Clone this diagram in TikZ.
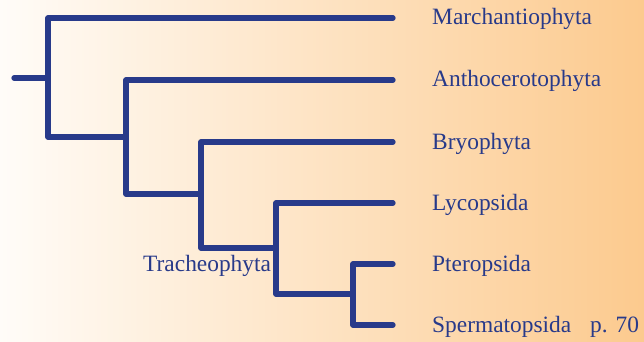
\documentclass[tikz,border=0pt]{standalone}
\usepackage{fontspec}
\setmainfont{Liberation Serif}
\definecolor{treeblue}{HTML}{283A8A}
\definecolor{bgleft}{HTML}{FFFCF8}
\definecolor{bgright}{HTML}{FCCA8E}
\begin{document}
\begin{tikzpicture}[x=1pt,y=-1pt,
  branch/.style={draw=treeblue,line width=5.3pt,line cap=round,line join=round},
  taxon/.style={anchor=base west,text=treeblue,inner sep=0pt,font=\fontsize{23.4}{27}\selectfont}]
\shade[left color=bgleft,right color=bgright] (0,0) rectangle (644,342);
\useasboundingbox (0,0) rectangle (644,342);
% joints
\coordinate (root) at (14,78);
\coordinate (jA) at (48,78);
\coordinate (jB) at (126,137);
\coordinate (jC) at (201,194);
\coordinate (jD) at (276,248);
\coordinate (jE) at (353,294);
% branch ends
\coordinate (e1) at (393,18);
\coordinate (e2) at (393,80);
\coordinate (e3) at (393,142);
\coordinate (e4) at (393,203);
\coordinate (e5) at (393,264);
\coordinate (e6) at (393,325);
% tree
\draw[branch] (root) -- (jA);
\draw[branch] (e1) -| (jA) |- (jB);
\draw[branch] (e2) -| (jB) |- (jC);
\draw[branch] (e3) -| (jC) |- (jD);
\draw[branch] (e4) -| (jD) |- (jE);
\draw[branch] (e5) -| (jE) |- (e6);
% labels
\node[taxon] (t1) at (432,25) {Marchantiophyta};
\node[taxon] (t2) at (432,87) {Anthocerotophyta};
\node[taxon] (t3) at (432,149) {Bryophyta};
\node[taxon] (t4) at (432,210) {Lycopsida};
\node[taxon] (t5) at (432,271) {Pteropsida};
\node[taxon] (t6) at (432,332) {Spermatopsida};
\node[taxon] (pg) at (590,332) {p. 70};
\node[taxon] (tr) at (143,271) {Tracheophyta};
\end{tikzpicture}
\end{document}
